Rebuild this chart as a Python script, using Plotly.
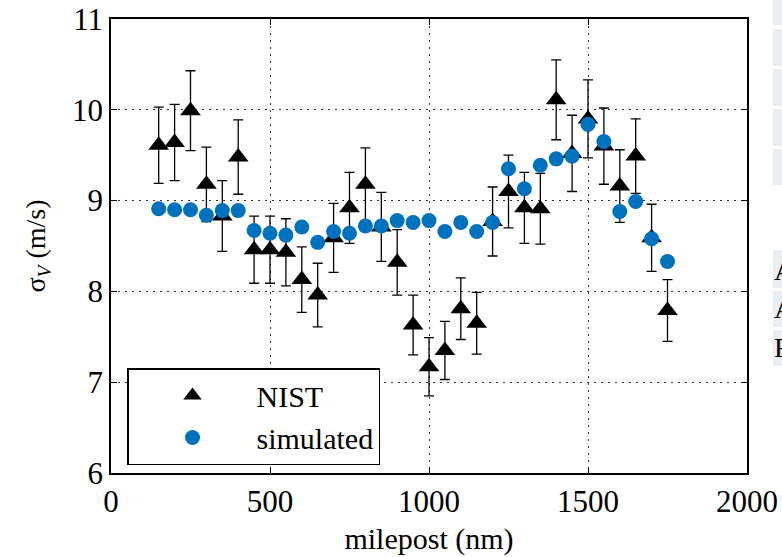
import plotly.graph_objects as go

milepost = [150, 200, 250, 300, 350, 400, 450, 500, 550, 600, 650, 700, 750, 800, 850, 900,
            950, 1000, 1050, 1100, 1150, 1200, 1250, 1300, 1350, 1400, 1450, 1500, 1550, 1600,
            1650, 1700, 1750]
nist = [9.61, 9.64, 9.99, 9.18, 8.83, 9.48, 8.46, 8.46, 8.43, 8.13, 7.96, 8.59, 8.92, 9.18,
        8.71, 8.32, 7.63, 7.17, 7.35, 7.81, 7.65, 8.77, 9.10, 8.92, 8.91, 10.11, 9.52, 9.90,
        9.60, 9.16, 9.49, 8.59, 7.79]
nist_err = [0.42, 0.42, 0.44, 0.41, 0.39, 0.41, 0.37, 0.37, 0.37, 0.36, 0.35, 0.38, 0.39, 0.40,
            0.38, 0.36, 0.33, 0.32, 0.32, 0.34, 0.34, 0.38, 0.40, 0.39, 0.39, 0.44, 0.42, 0.43,
            0.42, 0.40, 0.41, 0.37, 0.34]
simulated = [8.91, 8.90, 8.90, 8.84, 8.89, 8.89, 8.67, 8.64, 8.62, 8.71, 8.54, 8.66, 8.64, 8.72,
             8.72, 8.78, 8.76, 8.78, 8.66, 8.76, 8.66, 8.76, 9.35, 9.13, 9.39, 9.46, 9.49, 9.84,
             9.65, 8.88, 8.99, 8.58, 8.33]
x_ticks = [0, 500, 1000, 1500, 2000]
y_ticks = [6, 7, 8, 9, 10, 11]
side_letters = ["A", "A", "F"]

FONT = "Liberation Serif"
BLUE = "#0072BD"

fig = go.Figure()
fig.add_trace(go.Scatter(
    x=milepost, y=nist, mode="markers", name="NIST",
    marker=dict(symbol="triangle-up", size=18, color="black"),
    error_y=dict(type="data", array=nist_err, visible=True, color="black",
                 thickness=1.3, width=5),
))
fig.add_trace(go.Scatter(
    x=milepost, y=simulated, mode="markers", name="simulated",
    marker=dict(symbol="circle", size=15, color=BLUE),
))

axis_common = dict(
    showline=True, linecolor="black", linewidth=1.5, mirror="ticks",
    ticks="inside", ticklen=6, tickcolor="black", tickwidth=1,
    showgrid=True, gridcolor="#333333", gridwidth=1, griddash="2px,5px",
    zeroline=False, tickfont=dict(family=FONT, size=31, color="black"),
)

fig.update_xaxes(range=[0, 2000], tickvals=x_ticks, ticktext=[str(v) for v in x_ticks],
                 title=dict(text="milepost (nm)", font=dict(family=FONT, size=30, color="black"),
                            standoff=10),
                 **axis_common)
fig.update_yaxes(range=[6, 11], tickvals=y_ticks, ticktext=[str(v) for v in y_ticks],
                 title=dict(text="σ<sub><i>V</i></sub> (m/s)",
                            font=dict(family=FONT, size=28, color="black"), standoff=18),
                 **axis_common)

# cropped neighbouring table cells at the right edge of the reference
cells = [(0, 25), (29, 66), (69, 106), (109, 146), (149, 185), (250, 288), (291, 327), (330, 366)]
shapes = []
for (t, b) in cells:
    shapes.append(dict(type="rect", xref="paper", yref="paper",
                       x0=(773 - 111) / 636, x1=(800 - 111) / 636,
                       y0=(473 - b) / 454, y1=(473 - t) / 454,
                       fillcolor="#eaedf4", line=dict(width=0), layer="below"))
annotations = []
for i, letter in enumerate(side_letters):
    yc = [270, 308, 347][i]
    annotations.append(dict(text=letter, xref="paper", yref="paper",
                            x=(772 - 111) / 636, y=(473 - yc) / 454,
                            xanchor="left", yanchor="middle", showarrow=False,
                            font=dict(family=FONT, size=28, color="black")))

fig.update_layout(
    width=782, height=557,
    margin=dict(l=111, r=35, t=19, b=84, autoexpand=False),
    paper_bgcolor="white", plot_bgcolor="white",
    showlegend=True,
    legend=dict(x=(127 - 111) / 636, y=(473 - 368) / 454, xanchor="left", yanchor="top",
                bordercolor="black", borderwidth=1.5, bgcolor="white",
                font=dict(family=FONT, size=30, color="black"),
                itemwidth=118, tracegroupgap=0),
    shapes=shapes, annotations=annotations,
)

fig.write_html("out.html", config={"displayModeBar": False},
               post_script="document.body.style.margin='0px';document.body.style.padding='0px';")
